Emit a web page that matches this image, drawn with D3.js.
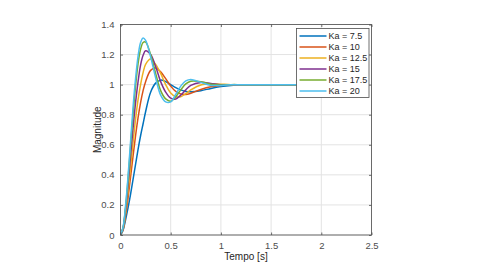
<!DOCTYPE html>
<html>
<head>
<meta charset="utf-8">
<script src="https://cdn.jsdelivr.net/npm/d3@7"></script>
<style>
  html, body { margin: 0; padding: 0; background: #fff; }
  svg { display: block; }
</style>
</head>
<body>
<svg id="chart" width="480" height="264"></svg>
<script>
// time samples (s)
const times = [0, 0.025, 0.05, 0.075, 0.1, 0.125, 0.15, 0.175, 0.2, 0.225, 0.25, 0.3, 0.35, 0.4,
  0.45, 0.5, 0.55, 0.6, 0.65, 0.7, 0.8, 0.9, 1.0, 1.1, 1.2, 1.4, 1.7, 2.0];

const seriesNames = ["Ka = 7.5", "Ka = 10", "Ka = 12.5", "Ka = 15", "Ka = 17.5", "Ka = 20"];

const ka75  = [0, .03, .10, .18, .27, .37, .47, .57, .66, .74, .82, .95, 1.01, 1.03, 1.02, 1.0, .98, .965, .955, .953, .96, .975, .987, .995, .999, 1, 1, 1];
const ka10  = [0, .035, .125, .245, .385, .525, .66, .78, .88, .96, 1.02, 1.095, 1.11, 1.085, 1.04, .99, .955, .938, .935, .943, .968, .986, .995, .999, 1, 1, 1, 1];
const ka125 = [0, .04, .145, .29, .45, .615, .77, .9, 1.0, 1.08, 1.135, 1.17, 1.135, 1.075, 1.0, .945, .92, .92, .94, .965, .998, 1.006, 1.003, 1, 1, 1, 1, 1];
const ka15  = [0, .045, .165, .335, .525, .71, .88, 1.02, 1.13, 1.195, 1.225, 1.2, 1.12, 1.02, .95, .91, .905, .93, .965, .995, 1.015, 1.008, 1.0, 1, 1, 1, 1, 1];
const ka175 = [0, .048, .18, .37, .59, .8, .99, 1.14, 1.235, 1.28, 1.283, 1.2, 1.075, .96, .905, .89, .92, .965, 1.005, 1.023, 1.02, 1.003, .997, 1, 1, 1, 1, 1];
const ka20  = [0, .05, .19, .39, .62, .85, 1.04, 1.19, 1.28, 1.31, 1.295, 1.185, 1.045, .93, .885, .885, .935, .99, 1.025, 1.035, 1.015, .995, .995, .999, 1, 1, 1, 1];

const xTicks = [0, 0.5, 1, 1.5, 2, 2.5];
const yTicks = [0, 0.2, 0.4, 0.6, 0.8, 1, 1.2, 1.4];

(function() {
  const COLORS = ["#0072BD", "#D95319", "#EDB120", "#7E2F8E", "#77AC30", "#4DBEEE"];
  const AXIS = "#4d4d4d";
  const GRID = "#e3e3e3";
  const FONT = "'Liberation Sans', Arial, sans-serif";

  const svg = d3.select("#chart");
  const margin = { top: 24.5, right: 108.5, bottom: 29, left: 120.5 };
  const innerWidth = 480 - margin.left - margin.right;
  const innerHeight = 264 - margin.top - margin.bottom;

  const g = svg.append("g")
    .attr("transform", `translate(${margin.left},${margin.top})`);

  const x = d3.scaleLinear().domain([0, 2.5]).range([0, innerWidth]);
  const y = d3.scaleLinear().domain([0, 1.4]).range([innerHeight, 0]);

  // grid
  g.append("g")
    .selectAll("line")
    .data(xTicks)
    .join("line")
    .attr("x1", d => x(d)).attr("x2", d => x(d))
    .attr("y1", 0).attr("y2", innerHeight)
    .attr("stroke", GRID);

  g.append("g")
    .selectAll("line")
    .data(yTicks)
    .join("line")
    .attr("x1", 0).attr("x2", innerWidth)
    .attr("y1", d => y(d)).attr("y2", d => y(d))
    .attr("stroke", GRID);

  // lines
  g.append("clipPath").attr("id", "plot-clip")
    .append("rect").attr("width", innerWidth).attr("height", innerHeight);

  const line = d3.line()
    .x((d, i) => x(times[i]))
    .y(d => y(d))
    .curve(d3.curveCatmullRom.alpha(0.5));

  const series = [ka75, ka10, ka125, ka15, ka175, ka20];

  g.append("g")
    .attr("clip-path", "url(#plot-clip)")
    .selectAll("path")
    .data(series)
    .join("path")
    .attr("fill", "none")
    .attr("stroke", (d, i) => COLORS[i])
    .attr("stroke-width", 1.5)
    .attr("d", line);

  // axes (ticks inside, box on)
  const styleAxis = sel => {
    sel.select(".domain").remove();
    sel.selectAll(".tick line").attr("stroke", AXIS).attr("stroke-width", 0.8);
    sel.selectAll(".tick text")
      .attr("fill", AXIS)
      .attr("font-family", FONT)
      .attr("font-size", 9.5);
  };

  g.append("g")
    .attr("transform", `translate(0,${innerHeight})`)
    .call(d3.axisBottom(x).tickValues(xTicks).tickSizeInner(-2.5).tickSizeOuter(0).tickPadding(7).tickFormat(d3.format("")))
    .call(styleAxis);

  g.append("g")
    .call(d3.axisLeft(y).tickValues(yTicks).tickSizeInner(-2.5).tickSizeOuter(0).tickPadding(6).tickFormat(d3.format("")))
    .call(styleAxis);

  g.append("g")
    .call(d3.axisTop(x).tickValues(xTicks).tickSizeInner(-2.5).tickSizeOuter(0).tickFormat(""))
    .call(styleAxis);

  g.append("g")
    .attr("transform", `translate(${innerWidth},0)`)
    .call(d3.axisRight(y).tickValues(yTicks).tickSizeInner(-2.5).tickSizeOuter(0).tickFormat(""))
    .call(styleAxis);

  g.append("rect")
    .attr("width", innerWidth).attr("height", innerHeight)
    .attr("fill", "none")
    .attr("stroke", AXIS)
    .attr("stroke-width", 0.8);

  // axis labels
  g.append("text")
    .attr("x", innerWidth / 2)
    .attr("y", innerHeight + 25)
    .attr("text-anchor", "middle")
    .attr("font-family", FONT)
    .attr("font-size", 10)
    .attr("fill", "#262626")
    .text("Tempo [s]");

  g.append("text")
    .attr("transform", `translate(-20,${innerHeight / 2}) rotate(-90)`)
    .attr("text-anchor", "middle")
    .attr("font-family", FONT)
    .attr("font-size", 10)
    .attr("fill", "#262626")
    .text("Magnitude");

  // legend
  const lg = g.append("g").attr("transform", `translate(${innerWidth - 75},4)`);
  lg.append("rect")
    .attr("width", 72.5).attr("height", 69)
    .attr("fill", "#fff")
    .attr("stroke", AXIS)
    .attr("stroke-width", 0.8);

  const items = lg.selectAll("g.item")
    .data(seriesNames)
    .join("g")
    .attr("class", "item")
    .attr("transform", (d, i) => `translate(0,${7.5 + i * 11})`);

  items.append("line")
    .attr("x1", 3).attr("x2", 30)
    .attr("stroke", (d, i) => COLORS[i])
    .attr("stroke-width", 1.5);

  items.append("text")
    .attr("x", 32)
    .attr("dy", "0.35em")
    .attr("font-family", FONT)
    .attr("font-size", 9)
    .attr("fill", "#262626")
    .text(d => d);
})();
</script>
</body>
</html>
